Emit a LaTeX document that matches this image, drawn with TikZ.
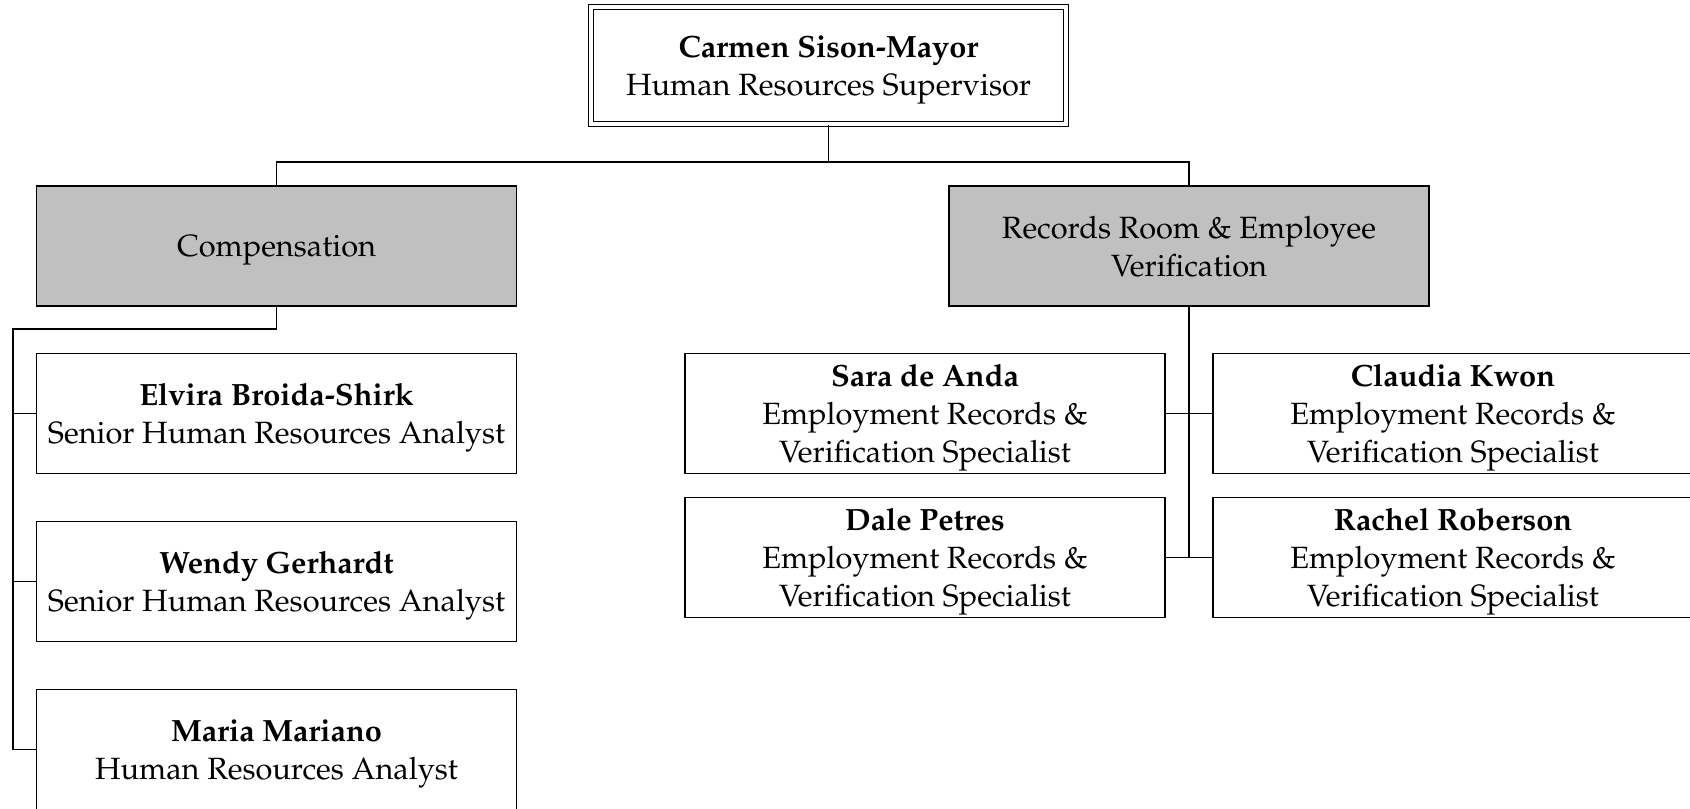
\documentclass[tikz,border=0pt]{standalone}
\usepackage[T1]{fontenc}
\usepackage{mathpazo}
\usetikzlibrary{positioning}
\usetikzlibrary{calc}
\definecolor{deptgrey}{HTML}{C0C0C0}

\begin{document}
\begin{tikzpicture}[x=0.4pt, y=-0.4pt,
  person/.style={draw, line width=0.6pt, minimum width=192pt, minimum height=48pt,
    inner sep=0pt, align=center, text depth=0pt, font=\fontsize{12.3}{15.1}\selectfont},
  dept/.style={person, fill=deptgrey},
  chief/.style={person, line width=0.5pt, double, double distance=1.4pt,
    minimum width=190pt, minimum height=46.8pt},
  link/.style={line width=0.45pt}]

\useasboundingbox (0,0) rectangle (1690,808);

% supervisor
\node[chief] (boss) at (828.5,65.5) {\textbf{Carmen Sison-Mayor}\\Human Resources Supervisor};

% units
\node[dept] (comp) at (276.5,246) {Compensation};
\node[dept] (rec) at (1189,246) {Records Room \& Employee\\Verification};

% compensation staff
\node[person] (elvira) at (276.5,413.5) {\textbf{Elvira Broida-Shirk}\\Senior Human Resources Analyst};
\node[person] (wendy) at (276.5,581.5) {\textbf{Wendy Gerhardt}\\Senior Human Resources Analyst};
\node[person] (maria) at (276.5,749.5) {\textbf{Maria Mariano}\\Human Resources Analyst};

% records staff
\node[person] (sara) at (925,413.5) {\textbf{Sara de Anda}\\Employment Records \&\\Verification Specialist};
\node[person] (claudia) at (1453,413.5) {\textbf{Claudia Kwon}\\Employment Records \&\\Verification Specialist};
\node[person] (dale) at (925,557.5) {\textbf{Dale Petres}\\Employment Records \&\\Verification Specialist};
\node[person] (rachel) at (1453,557.5) {\textbf{Rachel Roberson}\\Employment Records \&\\Verification Specialist};

% connectors
\coordinate (topbus) at (828.5,162);
\coordinate (compbus) at (13,329);
\draw[link] (boss.south) -- (topbus);
\draw[link] (comp.north) |- (topbus) -| (rec.north);
\draw[link] (comp.south) |- (compbus) -- (compbus |- maria.west) -- (maria.west);
\foreach \n in {elvira,wendy}
  \draw[link] (compbus |- \n.west) -- (\n.west);
\draw[link] (rec.south) -- (rec.south |- dale.east);
\draw[link] (sara.east) -- (claudia.west);
\draw[link] (dale.east) -- (rachel.west);

\end{tikzpicture}
\end{document}
